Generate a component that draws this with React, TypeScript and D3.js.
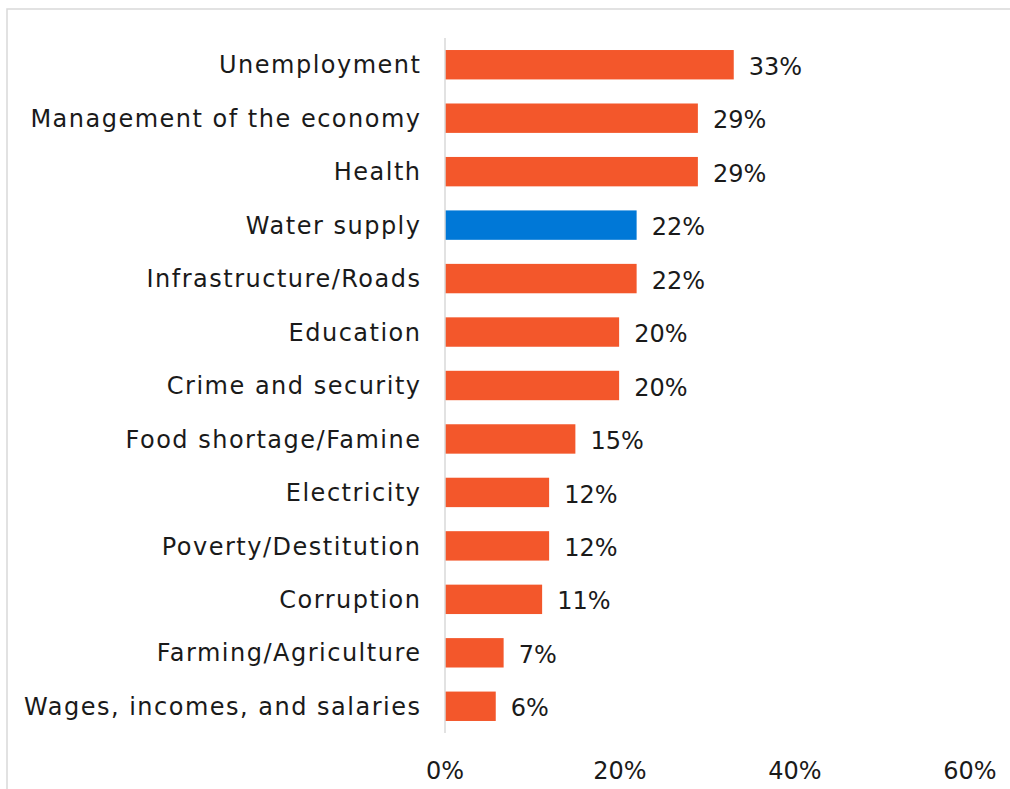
import React from "react";
import * as d3 from "d3";

const categories = [
  "Unemployment",
  "Management of the economy",
  "Health",
  "Water supply",
  "Infrastructure/Roads",
  "Education",
  "Crime and security",
  "Food shortage/Famine",
  "Electricity",
  "Poverty/Destitution",
  "Corruption",
  "Farming/Agriculture",
  "Wages, incomes, and salaries",
];
const values = [33.0, 28.9, 28.9, 21.9, 21.9, 19.9, 19.9, 14.9, 11.9, 11.9, 11.1, 6.7, 5.8];
const labels = ["33%", "29%", "29%", "22%", "22%", "20%", "20%", "15%", "12%", "12%", "11%", "7%", "6%"];
const highlighted = ["Water supply"];
const ticks = [0, 20, 40, 60];

const W = 1010;
const H = 789;
const FONT = "'DejaVu Sans', sans-serif";
const FS = 24;

export default function App() {
  const x = d3.scaleLinear().domain([0, 60]).range([445, 970]);
  const y = d3
    .scaleBand<string>()
    .domain(categories)
    .range([38, 733])
    .paddingInner(0.45)
    .paddingOuter(0.225);

  return (
    <svg
      width={W}
      height={H}
      style={{ position: "absolute", left: 0, top: 0, background: "#fff" }}
    >
      <rect x={7} y={9} width={W + 20} height={H + 20} fill="#fff" stroke="#d9d9d9" strokeWidth={1.5} />
      {categories.map((c, i) => {
        const yy = y(c)!;
        const bw = y.bandwidth();
        return (
          <g key={c}>
            <rect
              x={x(0)}
              y={yy}
              width={x(values[i]) - x(0)}
              height={bw}
              fill={highlighted.includes(c) ? "#0078d7" : "#f3572b"}
            />
            <text
              x={421.5}
              y={yy + bw / 2}
              dy="0.36em"
              textAnchor="end"
              fontFamily={FONT}
              fontSize={FS}
              letterSpacing={1.5}
              fill="#1a1a1a"
            >
              {c}
            </text>
            <text
              x={x(values[i]) + 15}
              y={yy + bw / 2}
              dy="0.42em"
              fontFamily={FONT}
              fontSize={FS}
              fill="#1a1a1a"
            >
              {labels[i]}
            </text>
          </g>
        );
      })}
      <line x1={x(0)} x2={x(0)} y1={38} y2={733} stroke="#d9d9d9" strokeWidth={1.5} />
      {ticks.map((t) => (
        <text
          key={t}
          x={x(t)}
          y={779}
          textAnchor="middle"
          fontFamily={FONT}
          fontSize={FS}
          fill="#1a1a1a"
        >
          {t}%
        </text>
      ))}
    </svg>
  );
}
